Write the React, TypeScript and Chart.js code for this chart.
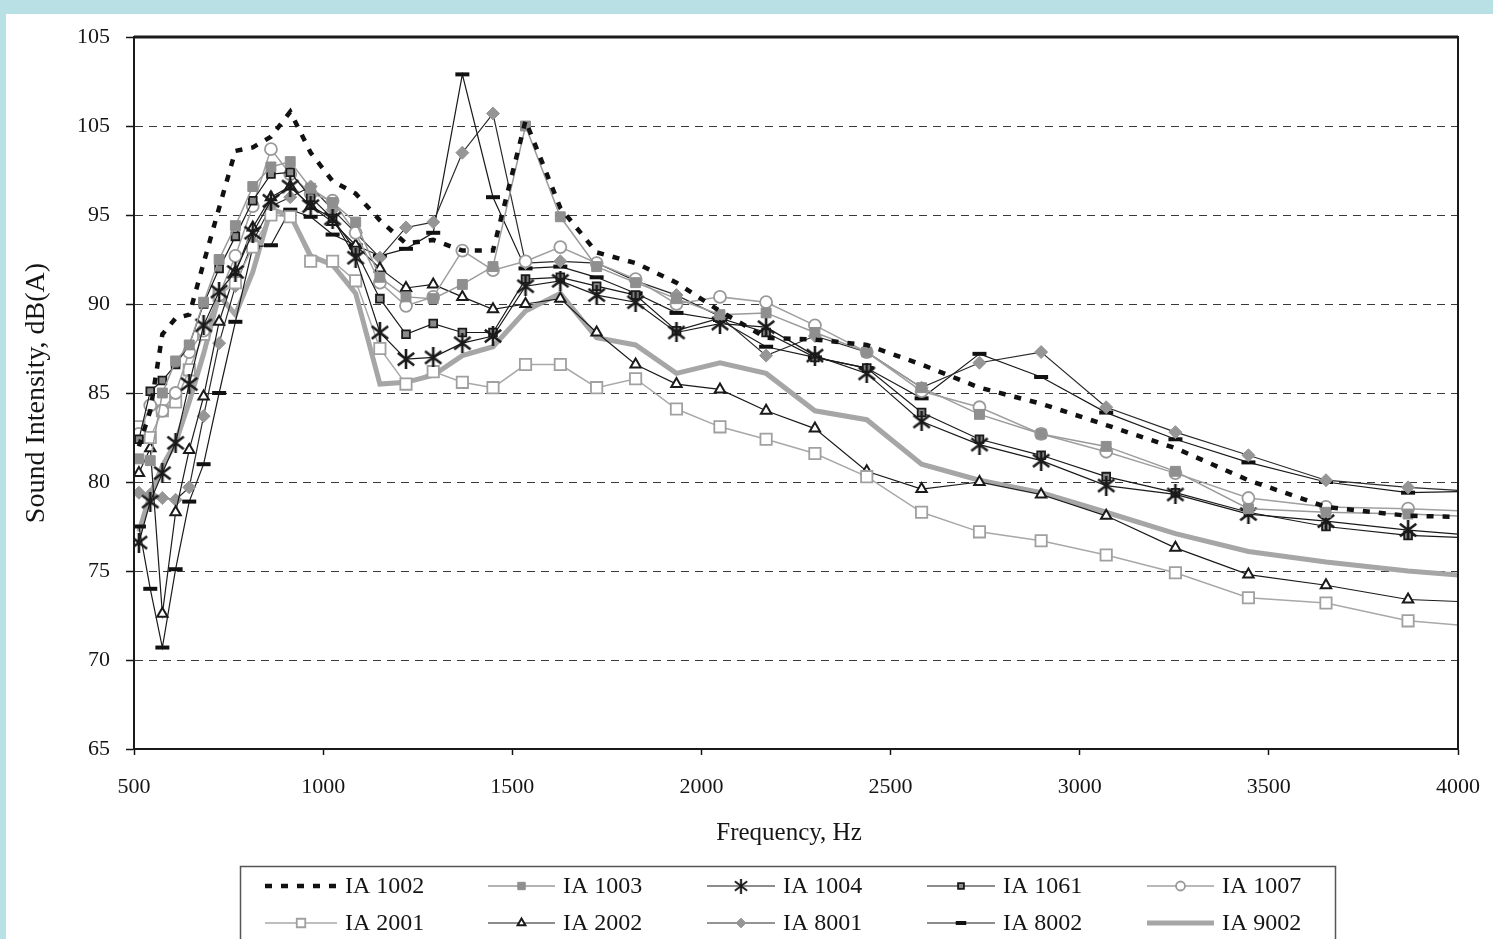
import React, { useEffect, useRef } from 'react';
import { Chart, registerables } from 'chart.js';

Chart.register(...registerables);

// 1/12-octave band frequencies (Hz)
const frequencies = [513, 543, 575, 610, 646, 684, 725, 768, 814, 862, 913, 967, 1025, 1086, 1150, 1219, 1291, 1368, 1449, 1535, 1627, 1723, 1826, 1934, 2049, 2171, 2300, 2437, 2582, 2735, 2898, 3070, 3253, 3446, 3651, 3868, 4098];

const ia1002 = [82.0, 84.0, 88.3, 89.2, 89.4, 92.3, 95.4, 98.6, 98.8, 99.4, 100.8, 98.5, 96.9, 96.2, 94.7, 93.4, 93.6, 93.0, 93.0, 100.3, 95.4, 92.9, 92.3, 91.2, 89.6, 88.1, 88.0, 87.7, 86.6, 85.3, 84.4, 83.2, 81.9, 80.1, 78.6, 78.1, 78.0];
const ia1003 = [81.3, 81.2, 85.0, 86.8, 87.7, 90.1, 92.5, 94.4, 96.6, 97.7, 98.0, 96.5, 95.7, 94.6, 91.5, 90.4, 90.3, 91.1, 92.1, 100.0, 94.9, 92.1, 91.2, 90.3, 89.4, 89.5, 88.4, 87.3, 85.3, 83.8, 82.7, 82.0, 80.6, 78.5, 78.3, 78.2, 78.0];
const ia1004 = [76.6, 78.9, 80.5, 82.2, 85.5, 88.8, 90.7, 91.8, 94.0, 95.8, 96.6, 95.5, 94.8, 92.6, 88.4, 86.9, 87.0, 87.8, 88.2, 91.0, 91.3, 90.5, 90.1, 88.4, 88.9, 88.7, 87.1, 86.1, 83.4, 82.1, 81.2, 79.8, 79.3, 78.2, 77.8, 77.3, 76.9];
const ia1061 = [82.4, 85.1, 85.7, 86.6, 87.7, 90.0, 92.0, 93.8, 95.8, 97.3, 97.4, 96.0, 94.8, 93.0, 90.3, 88.3, 88.9, 88.4, 88.4, 91.4, 91.5, 91.0, 90.5, 88.5, 89.2, 88.4, 87.0, 86.4, 83.9, 82.4, 81.5, 80.3, 79.4, 78.3, 77.5, 77.0, 76.8];
const ia1007 = [82.7, 84.3, 84.0, 85.0, 87.3, 88.5, 90.5, 92.7, 95.5, 98.7, 97.3, 96.2, 95.8, 94.0, 91.2, 89.9, 90.4, 93.0, 91.9, 92.4, 93.2, 92.3, 91.4, 90.0, 90.4, 90.1, 88.8, 87.3, 85.1, 84.2, 82.7, 81.7, 80.5, 79.1, 78.6, 78.5, 78.3];
const ia2001 = [83.1, 82.5, 84.0, 84.5, 86.3, 88.3, 90.5, 91.2, 93.2, 95.0, 94.9, 92.4, 92.4, 91.3, 87.5, 85.5, 86.2, 85.6, 85.3, 86.6, 86.6, 85.3, 85.8, 84.1, 83.1, 82.4, 81.6, 80.3, 78.3, 77.2, 76.7, 75.9, 74.9, 73.5, 73.2, 72.2, 71.8];
const ia2002 = [80.5, 81.9, 72.6, 78.3, 81.8, 84.8, 89.0, 91.8, 94.3, 96.0, 96.6, 95.5, 94.6, 93.3, 92.0, 90.9, 91.1, 90.4, 89.7, 90.0, 90.3, 88.4, 86.6, 85.5, 85.2, 84.0, 83.0, 80.6, 79.6, 80.0, 79.3, 78.1, 76.3, 74.8, 74.2, 73.4, 73.2];
const ia8001 = [79.4, 79.3, 79.1, 79.0, 79.7, 83.7, 87.8, 91.0, 93.5, 95.5, 96.0, 96.6, 95.3, 94.0, 92.6, 94.3, 94.6, 98.5, 100.7, 92.3, 92.4, 92.3, 91.3, 90.5, 89.3, 87.1, 88.2, 87.3, 85.3, 86.7, 87.3, 84.2, 82.8, 81.5, 80.1, 79.7, 79.4];
const ia8002 = [77.5, 74.0, 70.7, 75.1, 78.9, 81.0, 85.0, 89.0, 93.2, 93.3, 95.3, 94.9, 93.9, 93.3, 92.7, 93.1, 94.0, 102.9, 96.0, 92.0, 92.1, 91.5, 90.6, 89.5, 89.1, 87.6, 87.0, 86.4, 84.7, 87.2, 85.9, 83.9, 82.4, 81.1, 80.0, 79.4, 79.5];
const ia9002 = [77.2, 79.3, 80.9, 82.2, 84.5, 87.2, 90.5, 89.4, 91.8, 95.3, 95.0, 92.7, 92.2, 90.6, 85.5, 85.6, 86.0, 87.1, 87.6, 89.6, 90.6, 88.1, 87.7, 86.1, 86.7, 86.1, 84.0, 83.5, 81.0, 80.1, 79.4, 78.3, 77.1, 76.1, 75.5, 75.0, 74.6];

const seriesNames = ['IA 1002', 'IA 1003', 'IA 1004', 'IA 1061', 'IA 1007', 'IA 2001', 'IA 2002', 'IA 8001', 'IA 8002', 'IA 9002'];

const yTickValues = [65, 70, 75, 80, 85, 90, 95, 100, 105];
const yTickLabels = ['65', '70', '75', '80', '85', '90', '95', '105', '105'];
const xTickValues = [500, 1000, 1500, 2000, 2500, 3000, 3500, 4000];
const xTickLabels = ['500', '1000', '1500', '2000', '2500', '3000', '3500', '4000'];
const xTitle = 'Frequency, Hz';
const yTitle = 'Sound Intensity, dB(A)';

const FONT = '"Liberation Serif", "Times New Roman", serif';
const INK = '#151515';

function makeStar(size: number, lw: number, color: string): HTMLCanvasElement {
  const c = document.createElement('canvas');
  c.width = size;
  c.height = size;
  const g = c.getContext('2d')!;
  g.strokeStyle = color;
  g.lineWidth = lw;
  const m = lw * 0.7;
  g.beginPath();
  g.moveTo(m, m + 2);
  g.lineTo(size - m, size - m - 2);
  g.moveTo(size - m, m + 2);
  g.lineTo(m, size - m - 2);
  g.moveTo(size / 2, 0);
  g.lineTo(size / 2, size);
  g.stroke();
  return c;
}

function drawMarker(ctx: CanvasRenderingContext2D, style: any, r: number, x: number, y: number, fill: string, stroke: string, bw: number, scale: number) {
  if (!style || r <= 0) return;
  ctx.save();
  ctx.setLineDash([]);
  ctx.fillStyle = fill;
  ctx.strokeStyle = stroke;
  ctx.lineWidth = bw;
  if (typeof style !== 'string') {
    const w = style.width * scale;
    const h = style.height * scale;
    ctx.drawImage(style, x - w / 2, y - h / 2, w, h);
    ctx.restore();
    return;
  }
  const rr = r * scale;
  ctx.beginPath();
  if (style === 'rect') {
    const s = Math.SQRT1_2 * rr;
    ctx.rect(x - s, y - s, 2 * s, 2 * s);
  } else if (style === 'circle') {
    ctx.arc(x, y, rr, 0, Math.PI * 2);
  } else if (style === 'triangle') {
    ctx.moveTo(x, y - rr);
    ctx.lineTo(x + rr * Math.sin(2 * Math.PI / 3), y - rr * Math.cos(2 * Math.PI / 3));
    ctx.lineTo(x + rr * Math.sin(4 * Math.PI / 3), y - rr * Math.cos(4 * Math.PI / 3));
    ctx.closePath();
  } else if (style === 'rectRot') {
    ctx.moveTo(x, y - rr);
    ctx.lineTo(x + rr, y);
    ctx.lineTo(x, y + rr);
    ctx.lineTo(x - rr, y);
    ctx.closePath();
  } else if (style === 'line') {
    ctx.moveTo(x - rr, y);
    ctx.lineTo(x + rr, y);
    ctx.stroke();
    ctx.restore();
    return;
  }
  ctx.fill();
  ctx.stroke();
  ctx.restore();
}

const legendCols = [259, 482, 701, 921, 1141];
const legendTextX = [339, 557, 777, 997, 1216];
const legendRows = [872, 909];

const boxLegendPlugin = {
  id: 'boxLegend',
  afterDraw(chart: any) {
    const ctx: CanvasRenderingContext2D = chart.ctx;
    ctx.save();
    // x-axis title
    ctx.font = `25px ${FONT}`;
    ctx.fillStyle = INK;
    ctx.textAlign = 'center';
    ctx.textBaseline = 'middle';
    ctx.fillText(xTitle, 783, 819);
    // legend box
    ctx.strokeStyle = '#555';
    ctx.lineWidth = 1.5;
    ctx.setLineDash([]);
    ctx.strokeRect(234.5, 852.5, 1095, 120);
    ctx.font = `24px ${FONT}`;
    ctx.textBaseline = 'middle';
    ctx.textAlign = 'left';
    chart.data.datasets.forEach((ds: any, i: number) => {
      const row = Math.floor(i / 5);
      const col = i % 5;
      const x0 = legendCols[col];
      const x1 = legendTextX[col] - 8;
      const y = legendRows[row];
      ctx.save();
      ctx.strokeStyle = ds.borderColor;
      ctx.lineWidth = ds.borderWidth;
      ctx.setLineDash(ds.borderDash || []);
      ctx.lineCap = 'butt';
      ctx.beginPath();
      ctx.moveTo(x0, y);
      ctx.lineTo(x1, y);
      ctx.stroke();
      ctx.restore();
      drawMarker(ctx, ds.pointStyle, ds.pointRadius, (x0 + x1) / 2, y, ds.pointBackgroundColor, ds.pointBorderColor, ds.pointBorderWidth, 0.75);
      ctx.fillStyle = INK;
      ctx.fillText(ds.label, legendTextX[col], y + 1);
    });
    ctx.restore();
  },
};

const framePlugin = {
  id: 'plotFrame',
  afterDatasetsDraw(chart: any) {
    const { ctx, chartArea } = chart;
    ctx.save();
    ctx.setLineDash([]);
    ctx.strokeStyle = '#1a1a1a';
    ctx.lineWidth = 2;
    ctx.strokeRect(chartArea.left, chartArea.top, chartArea.right - chartArea.left, chartArea.bottom - chartArea.top);
    ctx.beginPath();
    ctx.lineWidth = 3;
    ctx.moveTo(chartArea.left, chartArea.top);
    ctx.lineTo(chartArea.right, chartArea.top);
    ctx.stroke();
    ctx.restore();
  },
};

function toPoints(values: number[]) {
  return frequencies.map((f, i) => ({ x: f, y: values[i] }));
}

export default function App() {
  const canvasRef = useRef<HTMLCanvasElement | null>(null);

  useEffect(() => {
    const canvas = canvasRef.current;
    if (!canvas) return;
    const star = makeStar(20, 2.6, '#1a1a1a');

    const mk = (label: string, values: number[], o: any) => ({
      label,
      data: toPoints(values),
      borderColor: '#1a1a1a',
      borderWidth: 1.2,
      pointRadius: 0,
      pointBorderWidth: 1.5,
      pointBackgroundColor: '#fff',
      pointBorderColor: '#1a1a1a',
      pointStyle: false,
      tension: 0,
      fill: false,
      ...o,
    });

    const datasets = [
      mk(seriesNames[0], ia1002, { borderWidth: 4.5, borderDash: [7, 9], borderColor: '#111', pointRadius: 0, pointStyle: false }),
      mk(seriesNames[1], ia1003, { borderColor: '#9a9a9a', borderWidth: 1.5, pointStyle: 'rect', pointRadius: 7, pointBackgroundColor: '#8f8f8f', pointBorderColor: '#8f8f8f', pointBorderWidth: 1 }),
      mk(seriesNames[2], ia1004, { pointStyle: star, pointRadius: 8, pointBorderColor: '#1a1a1a', pointBackgroundColor: '#1a1a1a' }),
      mk(seriesNames[3], ia1061, { pointStyle: 'rect', pointRadius: 5.5, pointBackgroundColor: '#8a8a8a', pointBorderColor: '#1a1a1a', pointBorderWidth: 1.8 }),
      mk(seriesNames[4], ia1007, { borderColor: '#a0a0a0', borderWidth: 1.5, pointStyle: 'circle', pointRadius: 6, pointBackgroundColor: '#fff', pointBorderColor: '#9a9a9a', pointBorderWidth: 1.8 }),
      mk(seriesNames[5], ia2001, { borderColor: '#a8a8a8', borderWidth: 1.5, pointStyle: 'rect', pointRadius: 8, pointBackgroundColor: '#fff', pointBorderColor: '#a0a0a0', pointBorderWidth: 1.8 }),
      mk(seriesNames[6], ia2002, { pointStyle: 'triangle', pointRadius: 6, pointBackgroundColor: '#fff', pointBorderColor: '#1a1a1a', pointBorderWidth: 2 }),
      mk(seriesNames[7], ia8001, { borderColor: '#2a2a2a', pointStyle: 'rectRot', pointRadius: 6.5, pointBackgroundColor: '#969696', pointBorderColor: '#969696', pointBorderWidth: 1 }),
      mk(seriesNames[8], ia8002, { pointStyle: 'line', pointRadius: 7, pointBorderColor: '#111', pointBorderWidth: 4 }),
      mk(seriesNames[9], ia9002, { borderColor: '#a6a6a6', borderWidth: 5, pointRadius: 0, pointStyle: false }),
    ];

    const chart = new Chart(canvas, {
      type: 'line',
      data: { datasets },
      plugins: [framePlugin, boxLegendPlugin],
      options: {
        animation: false,
        responsive: false,
        events: [],
        layout: { autoPadding: false, padding: { left: 0, top: 23, right: 35, bottom: 91 } },
        font: { family: FONT },
        plugins: {
          legend: { display: false },
          tooltip: { enabled: false },
          title: { display: false },
        },
        scales: {
          x: {
            type: 'linear',
            min: 500,
            max: 4000,
            afterFit: (s: any) => { s.height = 99; s.paddingLeft = 0; s.paddingRight = 0; },
            afterBuildTicks: (s: any) => { s.ticks = xTickValues.map((v) => ({ value: v })); },
            ticks: {
              padding: 19,
              color: INK,
              font: { family: FONT, size: 22 },
              maxRotation: 0,
              autoSkip: false,
              callback: (v: any) => { const i = xTickValues.indexOf(Number(v)); return i >= 0 ? xTickLabels[i] : ''; },
            },
            grid: { display: true, drawOnChartArea: false, drawTicks: true, tickLength: 6, tickColor: INK, tickWidth: 1.5, tickBorderDash: [] },
            border: { display: true, color: '#1a1a1a', width: 2 },
            title: { display: false },
          },
          y: {
            type: 'linear',
            min: 65,
            max: 105,
            afterFit: (s: any) => { s.width = 128; s.paddingTop = 0; s.paddingBottom = 0; },
            afterBuildTicks: (s: any) => { s.ticks = yTickValues.map((v) => ({ value: v })); },
            ticks: {
              padding: 16,
              color: INK,
              font: { family: FONT, size: 22 },
              callback: (v: any) => { const i = yTickValues.indexOf(Number(v)); return i >= 0 ? yTickLabels[i] : ''; },
            },
            grid: { display: true, color: '#3a3a3a', lineWidth: 1, drawTicks: true, tickLength: 8, tickColor: INK, tickWidth: 1.5, tickBorderDash: [] },
            border: { display: true, color: '#1a1a1a', width: 2, dash: [8, 6] },
            title: { display: true, text: yTitle, color: INK, font: { family: FONT, size: 28 }, padding: { top: 14, bottom: 0 } },
          },
        },
      } as any,
    });

    return () => { chart.destroy(); };
  }, []);

  return (
    <div style={{ position: 'fixed', left: 0, top: 0, width: 1493, height: 939, background: '#b9e0e4', overflow: 'hidden' }}>
      <div style={{ position: 'absolute', left: 6, top: 14, width: 1487, height: 925, background: '#ffffff' }}>
        <canvas ref={canvasRef} width={1487} height={925} style={{ display: 'block', width: 1487, height: 925 }} />
      </div>
    </div>
  );
}
